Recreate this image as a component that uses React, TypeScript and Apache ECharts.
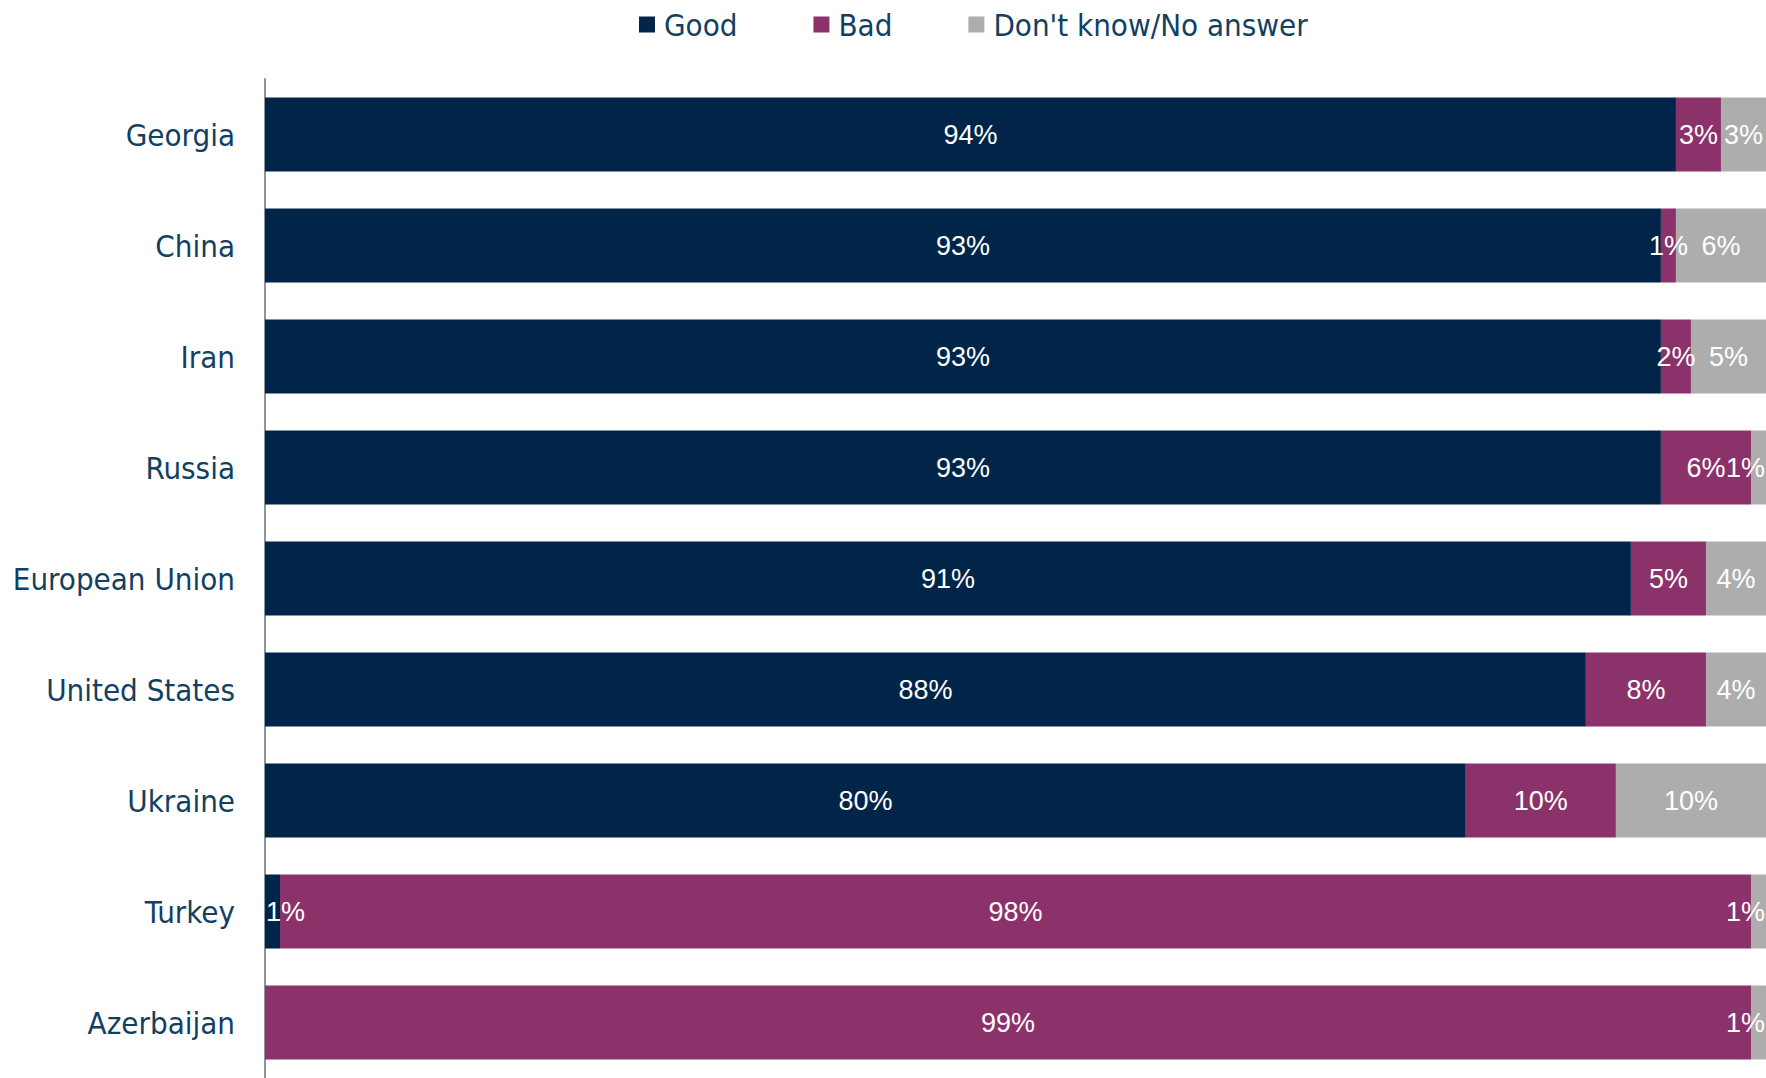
import React, { useEffect, useRef } from "react";
import * as echarts from "echarts";

// Countries, top to bottom
const countries = [
  "Georgia",
  "China",
  "Iran",
  "Russia",
  "European Union",
  "United States",
  "Ukraine",
  "Turkey",
  "Azerbaijan",
];

// Share of answers per country (%)
const good = [94, 93, 93, 93, 91, 88, 80, 1, 0];
const bad = [3, 1, 2, 6, 5, 8, 10, 98, 99];
const dontKnow = [3, 6, 5, 1, 4, 4, 10, 1, 1];

const seriesNames = ["Good", "Bad", "Don't know/No answer"];
const seriesColors = ["#012549", "#8C326B", "#ADADAD"];

const TEXT_FONT = "'DejaVu Sans Condensed', 'DejaVu Sans', sans-serif";
const LABEL_FONT = "'Liberation Sans Narrow', 'Arial Narrow', 'Liberation Sans', sans-serif";
const TEXT_COLOR = "#123F62";

type Edge = "left" | "right" | null;

// Thin segments sitting on the plot edge keep their label inside the plot
const toData = (values: number[], edge: Edge) =>
  values.map((v) => {
    if (edge && v > 0 && v <= 1) {
      return {
        value: v,
        label: {
          position: edge === "left" ? "insideLeft" : "insideRight",
          distance: 1,
        },
      };
    }
    return v;
  });

export default function App() {
  const ref = useRef<HTMLDivElement>(null);

  useEffect(() => {
    if (!ref.current) return;
    const chart = echarts.init(ref.current, undefined, { renderer: "svg" });

    const makeSeries = (name: string, data: any[], color: string) => ({
      name,
      type: "bar",
      stack: "total",
      data,
      barWidth: 74,
      itemStyle: { color },
      label: {
        show: true,
        position: "inside",
        color: "#FFFFFF",
        fontFamily: LABEL_FONT,
        fontSize: 27,
        formatter: (p: any) => (p.value ? `${p.value}%` : ""),
      },
    });

    chart.setOption({
      animation: false,
      legend: {
        data: seriesNames,
        left: 634,
        top: 4,
        icon: "rect",
        itemWidth: 16,
        itemHeight: 16,
        itemGap: 76,
        textStyle: {
          fontFamily: TEXT_FONT,
          fontSize: 31,
          color: TEXT_COLOR,
          padding: [0, 0, 0, 4],
        },
      },
      grid: { left: 265, right: 0, top: 79, height: 1003, containLabel: false },
      xAxis: {
        type: "value",
        min: 0,
        max: 100,
        show: false,
      },
      yAxis: {
        type: "category",
        data: countries,
        inverse: true,
        axisTick: { show: false },
        axisLine: { show: true, lineStyle: { color: "#8C949C", width: 2 } },
        axisLabel: {
          fontFamily: TEXT_FONT,
          fontSize: 31,
          color: TEXT_COLOR,
          margin: 30,
        },
        splitLine: { show: false },
      },
      series: [
        makeSeries(seriesNames[0], toData(good, "left"), seriesColors[0]),
        makeSeries(seriesNames[1], toData(bad, null), seriesColors[1]),
        makeSeries(seriesNames[2], toData(dontKnow, "right"), seriesColors[2]),
      ],
    });

    return () => chart.dispose();
  }, []);

  return (
    <div
      ref={ref}
      style={{
        position: "absolute",
        left: 0,
        top: 0,
        width: 1766,
        height: 1078,
        background: "#FFFFFF",
      }}
    />
  );
}
